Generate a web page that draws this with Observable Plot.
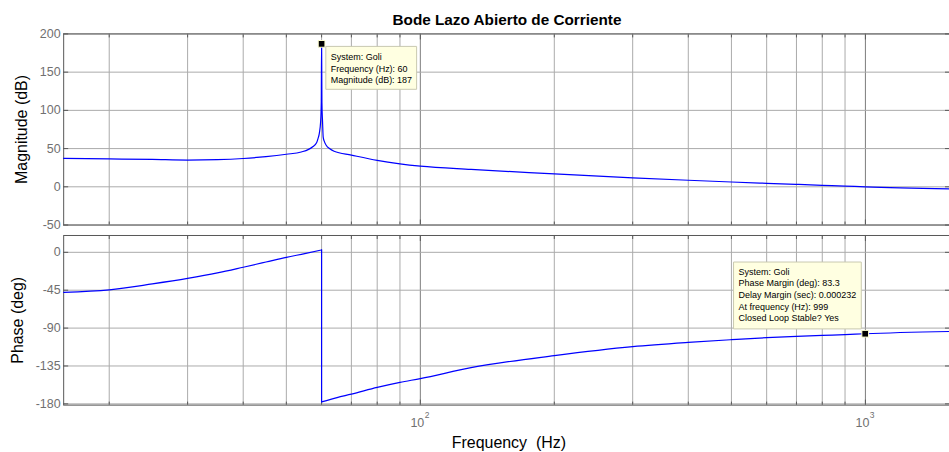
<!DOCTYPE html>
<html><head><meta charset="utf-8">
<script src="https://cdn.jsdelivr.net/npm/d3@7"></script>
<script src="https://cdn.jsdelivr.net/npm/@observablehq/plot@0.6"></script>
<style>
html,body{margin:0;padding:0;background:#fff;overflow:hidden;}
#wrap{position:relative;width:949px;height:452px;overflow:hidden;font-family:"Liberation Sans",Arial,sans-serif;}
#title{position:absolute;left:63px;width:888px;top:11.5px;text-align:center;font-weight:bold;font-size:15.3px;line-height:15px;color:#000;}
#mag{position:absolute;left:0;top:0;}
#phase{position:absolute;left:0;top:230px;}
g[aria-label="tip"] text, g[aria-label="tip"] tspan{font-size:9px;fill:#000;}
</style></head><body>
<div id="wrap"><div id="mag"></div><div id="phase"></div><div id="title"></div></div>
<script>
const chartTitle = "Bode Lazo Abierto de Corriente";
const magLabel = "Magnitude (dB)";
const phaseLabel = "Phase (deg)";
const freqLabel = "Frequency \u00a0(Hz)";

const magFreq = [15.8, 20, 25, 30, 35, 40, 45, 50, 54, 57.3, 58.5, 58.9, 59.3, 59.7, 59.9, 60, 60.1, 60.3, 60.5, 60.8, 61.5, 62.5, 64, 70, 80, 90, 100, 130, 200, 300, 400, 500, 600, 700, 800, 900, 1000, 1545];
const magDb   = [37.2, 36.5, 35.8, 35.0, 35.5, 37.0, 39.5, 42.6, 45.5, 52.4, 58, 63, 70, 85, 110, 187, 110, 85, 65, 60, 54, 50, 46.5, 41.5, 34.5, 30, 27, 22.7, 17, 11.8, 8.6, 6.3, 4.6, 3.2, 2.0, 1.0, 0, -2.8];

const phaseFreq = [15.8, 20, 25, 30, 35, 40, 45, 50, 55, 60, 60, 65, 70, 80, 90, 100, 130, 200, 300, 400, 500, 600, 700, 800, 900, 999, 1545];
const phaseDeg  = [-47.5, -44.5, -37.5, -31, -24.5, -17.7, -11.5, -5.9, -1.5, 2.8, -177.6, -172.5, -168.5, -160.5, -154.5, -150, -137, -122.7, -112, -107, -103.8, -101.4, -99.8, -98.6, -97.8, -96.7, -94];
const phaseJumpFreq = 60;

const magTicks = [-50, 0, 50, 100, 150, 200];
const phaseTicks = [0, -45, -90, -135, -180];
const decadeTicks = [100, 1000];
const minorTicks = [20, 30, 40, 50, 60, 70, 80, 90, 200, 300, 400, 500, 600, 700, 800, 900];

const peakPoint = [{f: 60, v: 187}];
const marginPoint = [{f: 999, v: -96.7}];
const peakTip = ["System: Goli", "Frequency (Hz): 60", "Magnitude (dB): 187"];
const marginTip = ["System: Goli", "Phase Margin (deg): 83.3", "Delay Margin (sec): 0.000232", "At frequency (Hz): 999", "Closed Loop Stable? Yes"];

const magData = magFreq.map((f, i) => ({f, v: magDb[i], seg: 0}));
// phase: two smooth branches, joined by the vertical jump at 60 Hz
const jumpIdx = phaseFreq.indexOf(phaseJumpFreq);
const phaseData = phaseFreq.map((f, i) => ({f, v: phaseDeg[i], seg: i <= jumpIdx ? 0 : 1}));
const phaseJump = phaseData.filter(d => d.f === phaseJumpFreq);

const FONT = "Liberation Sans, Arial, Helvetica, sans-serif";
const xScale = {type: "log", domain: [15.8, 1545], label: null};
const GRID = "#ababab", MAJOR = "#7c7c7c", FRAME = "#585858", TICKTXT = "#707070";

document.getElementById("title").textContent = chartTitle;

function panel(data, ticks, domain, opts) {
  const tk = {fill: "none", stroke: FRAME, label: null};
  const marks = [
    Plot.gridX(minorTicks, {stroke: GRID, strokeOpacity: 1}),
    Plot.gridX(decadeTicks, {stroke: MAJOR, strokeOpacity: 1}),
    Plot.gridY(ticks, {stroke: GRID, strokeOpacity: 1}),
    Plot.axisX(minorTicks, {anchor: "top", tickSize: -3, ...tk}),
    Plot.axisX(minorTicks, {anchor: "bottom", tickSize: -3, ...tk}),
    Plot.axisX(decadeTicks, {anchor: "top", tickSize: -5, ...tk}),
    Plot.axisX(decadeTicks, {anchor: "bottom", tickSize: -5, ...tk}),
    Plot.axisY(ticks, {anchor: "left", tickSize: -5, ...tk}),
    Plot.axisY(ticks, {anchor: "right", tickSize: -5, ...tk}),
    Plot.axisY(ticks, {anchor: "left", tickSize: 0, tickPadding: 3, tickFormat: d => String(d), fill: TICKTXT, fontSize: 12.5, label: null}),
    Plot.frame({stroke: FRAME}),
    Plot.line(data, {x: "f", y: "v", z: "seg", stroke: "#0000ff", strokeWidth: 1.2, curve: "monotone-x"}),
    Plot.text([opts.label], {text: d => d, frameAnchor: "left", rotate: -90, lineAnchor: "top", textAnchor: "middle", dx: opts.labelDx, fontSize: 16, fill: "#000"}),
    ...opts.extra
  ];
  return Plot.plot({
    width: 951, height: opts.height,
    marginLeft: 63.3, marginRight: 0, marginTop: opts.mt, marginBottom: opts.mb,
    style: {fontFamily: FONT, background: "transparent", overflow: "visible"},
    x: xScale,
    y: {domain, label: null},
    marks
  });
}

const tipStyle = {fill: "#ffffe1", stroke: "#c9c9b0", fontSize: 9, lineHeight: 1.3, textPadding: 5, pointerSize: 0, pathFilter: "none", fontFamily: FONT};
const markerStyle = {symbol: "square", r: 3.8, fill: "#000", stroke: "#ffffd0", strokeWidth: 1};

const magPlot = panel(magData, magTicks, [-50, 200], {
  height: 230, mt: 33.5, mb: 5, label: magLabel, labelDx: -47.8,
  extra: [
    Plot.dot(peakPoint, {x: "f", y: "v", ...markerStyle}),
    Plot.tip(peakPoint, {x: "f", y: "v", title: () => peakTip.join("\n"), anchor: "top-left", dx: 4, dy: 3, ...tipStyle})
  ]
});

const phasePlot = panel(phaseData, phaseTicks, [-181.5, 20], {
  height: 222, mt: 5, mb: 47, label: phaseLabel, labelDx: -52.3,
  extra: [
    Plot.line(phaseJump, {x: "f", y: "v", stroke: "#0000ff", strokeWidth: 1.2}),
    Plot.axisX(decadeTicks, {anchor: "bottom", tickSize: 0, tickPadding: 13, tickFormat: () => "10", dx: -3, fontSize: 12.5, fill: TICKTXT, label: null}),
    Plot.axisX(decadeTicks, {anchor: "bottom", tickSize: 0, tickPadding: 6.7, tickFormat: d => String(Math.round(Math.log10(d))), dx: 6.8, fontSize: 8.5, fill: TICKTXT, label: null}),
    Plot.text([freqLabel], {text: d => d, frameAnchor: "bottom", lineAnchor: "top", dy: 31.5, dx: 2.3, fontSize: 16, fill: "#000"}),
    Plot.dot(marginPoint, {x: "f", y: "v", ...markerStyle}),
    Plot.tip(marginPoint, {x: "f", y: "v", title: () => marginTip.join("\n"), anchor: "bottom-right", dx: -4.4, dy: -4.4, ...tipStyle})
  ]
});

document.getElementById("mag").appendChild(magPlot);
document.getElementById("phase").appendChild(phasePlot);
</script>
</body></html>
